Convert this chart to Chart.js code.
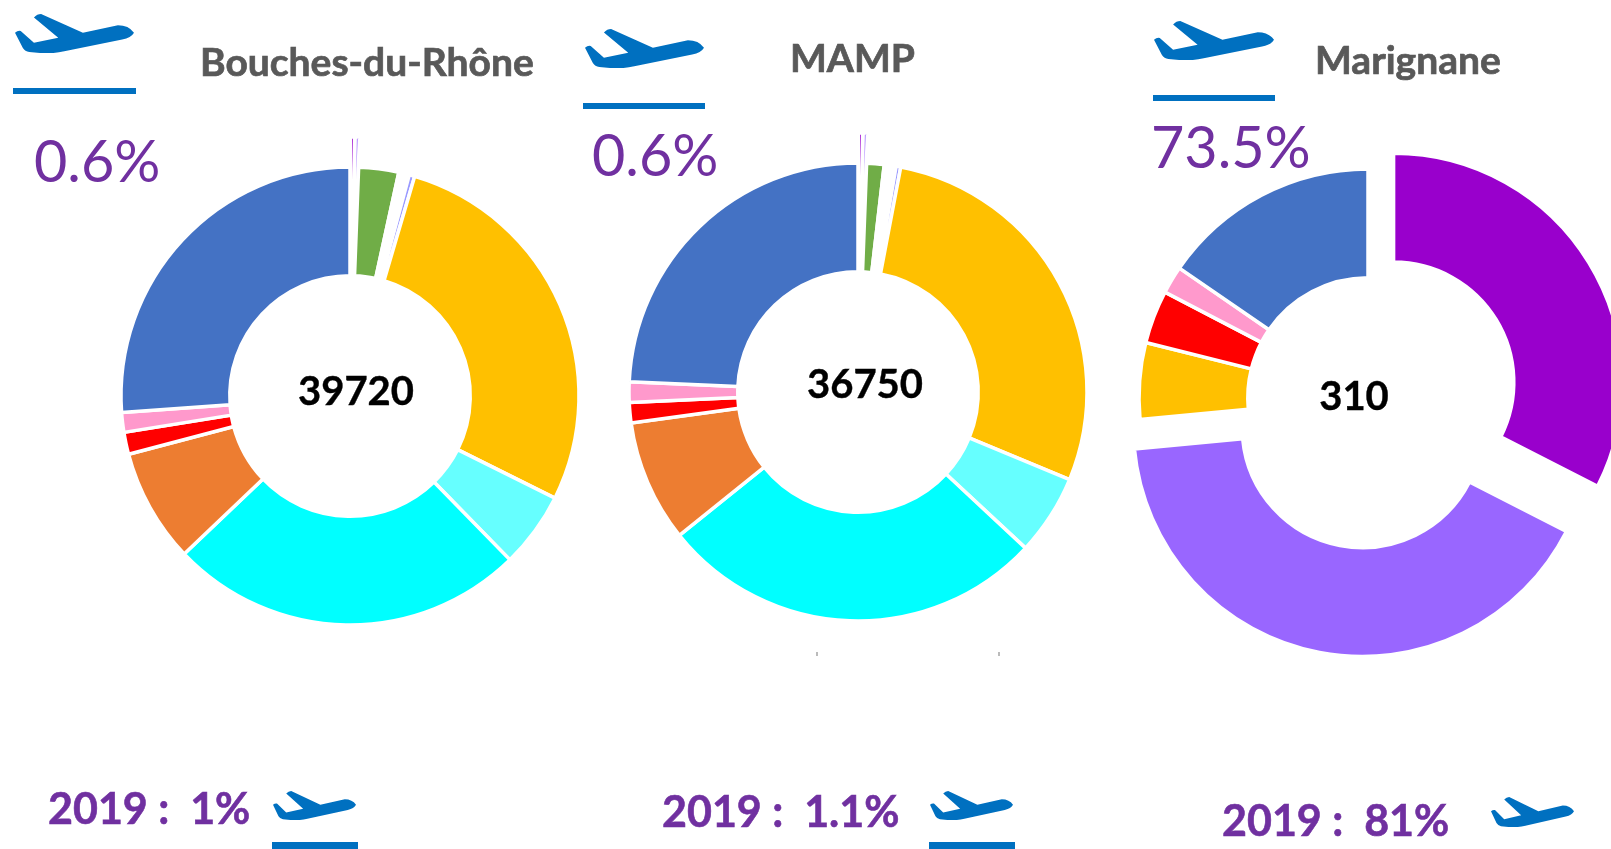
<!DOCTYPE html>
<html lang="fr">
<head>
<meta charset="utf-8">
<title>Donuts</title>
<script src="https://cdn.jsdelivr.net/npm/chart.js@4"></script>
<style>
html,body{margin:0;padding:0;width:1611px;height:849px;overflow:hidden;background:#fff}
canvas{position:absolute;filter:blur(.5px)}
#c1{left:50px;top:96px}
#c2{left:558px;top:92px}
#c3{left:1068px;top:98px}
svg{position:absolute;left:0;top:0}
text{font-family:Lato,"Open Sans",sans-serif}
.title{font-weight:700;font-size:39px;fill:#595959;stroke:#595959;stroke-width:.7px;filter:blur(.6px)}
.share{font-size:57.5px;fill:#7030A0}
.total{font-weight:700;font-size:40px;fill:#000;stroke:#000;stroke-width:.4px}
.past{font-weight:700;font-size:43px;fill:#7030A0;stroke:#7030A0;stroke-width:.6px}
.plane,.rule{fill:#0070C0}
</style>
</head>
<body>
<canvas id="c1" width="600" height="600"></canvas>
<canvas id="c2" width="600" height="600"></canvas>
<canvas id="c3" width="600" height="600"></canvas>
<svg width="1611" height="849" xmlns="http://www.w3.org/2000/svg">
  <defs>
    <symbol id="pl" viewBox="0 0 333 115" preserveAspectRatio="none">
      <path d="M0 55 Q8 48 16 50 L53 85 L121 70 L53 10 Q62 0 73 0 L190 55 L288 33 Q318 33 333 55 Q325 70 300 75 L138 110 Q105 118 70 115 L40 112 Q28 110 22 100 Z"/>
    </symbol>
  </defs>
  <use class="plane" href="#pl" x="15" y="14" width="119" height="39"/>
  <rect class="rule" x="13" y="88" width="123" height="6"/>
  <use class="plane" href="#pl" x="585" y="29" width="119" height="39"/>
  <rect class="rule" x="583" y="103" width="122" height="6"/>
  <use class="plane" href="#pl" x="1154" y="21" width="120" height="39"/>
  <rect class="rule" x="1153" y="95" width="122" height="6"/>

  <text class="title" x="200" y="76">Bouches-du-Rhône</text>
  <text class="title" x="790" y="72">MAMP</text>
  <text class="title" x="1315" y="74">Marignane</text>

  <text class="share" x="34" y="182">0.6%</text>
  <text class="share" x="592" y="176">0.6%</text>
  <text class="share" x="1151" y="168">73.5%</text>

  <text class="total" x="356" y="405" text-anchor="middle">39720</text>
  <text class="total" x="865" y="398" text-anchor="middle">36750</text>
  <text class="total" x="1354" y="410" text-anchor="middle">310</text>

  <rect x="816" y="652" width="2" height="4" fill="#bbb"/>
  <rect x="998" y="652" width="2" height="4" fill="#bbb"/>

  <text class="past" x="48" y="824" xml:space="preserve">2019 :  1%</text>
  <use class="plane" href="#pl" x="273" y="791" width="83" height="29"/>
  <rect class="rule" x="272" y="842" width="86" height="7"/>
  <text class="past" x="662" y="827" xml:space="preserve">2019 :  1.1%</text>
  <use class="plane" href="#pl" x="930" y="791" width="83" height="29"/>
  <rect class="rule" x="929" y="842" width="86" height="7"/>
  <text class="past" x="1222" y="836" xml:space="preserve">2019 :  81%</text>
  <use class="plane" href="#pl" x="1491" y="797" width="83" height="30"/>
</svg>
<script>
const categories = ['Transport aérien A','Transport aérien B','Catégorie verte','Catégorie blanche','Catégorie pervenche','Catégorie jaune','Catégorie cyan clair','Catégorie cyan','Catégorie orange','Catégorie rouge','Catégorie rose','Catégorie bleue'];
const colours = ['#9900CC','#9966FF','#70AD47','#FFFFFF','#9999FF','#FFC000','#66FFFF','#00FFFF','#ED7D31','#FF0000','#FF99CC','#4472C4'];
const exploded = ['Transport aérien A','Transport aérien B'];
const bouchesDuRhone = [0.3,0.3,2.82,0.75,0.39,27.8,5.33,25.2,8.02,1.55,1.39,26.15];
const mamp = [0.3,0.3,1.23,0.83,0.33,28.25,5.69,27.3,8.59,1.44,1.44,24.28];
const marignane = [32.5,41,0,0,0,5.4,0,0,0,3.75,1.95,15.4];

// Chart.js's own "offset" also inflates the arc radius, so exploded slices
// are moved along their mid-angle after the library has laid them out.
const explodeArcs = {
  id:'explodeArcs',
  afterDatasetsUpdate(chart){
    chart.getDatasetMeta(0).data.forEach((arc,k)=>{
      if(!exploded.includes(chart.data.labels[k])) return;
      const mid=(arc.startAngle+arc.endAngle)/2;
      arc.x+=Math.cos(mid)*30;
      arc.y+=Math.sin(mid)*30;
    });
  }
};

function donut(id, values) {
  const keep = values.map((v,i)=>i).filter(i=>values[i]>0);
  new Chart(document.getElementById(id), {
    type:'doughnut',
    data:{
      labels:keep.map(i=>categories[i]),
      datasets:[{
        data:keep.map(i=>values[i]),
        backgroundColor:keep.map(i=>colours[i]),
        borderColor:'#fff',
        borderWidth:3.5
      }]
    },
    plugins:[explodeArcs],
    options:{
      responsive:false,
      animation:false,
      radius:229,
      cutout:'52.5%',
      layout:{padding:0},
      plugins:{legend:{display:false},tooltip:{enabled:false}}
    }
  });
}
donut('c1', bouchesDuRhone);
donut('c2', mamp);
donut('c3', marignane);
</script>
</body>
</html>
